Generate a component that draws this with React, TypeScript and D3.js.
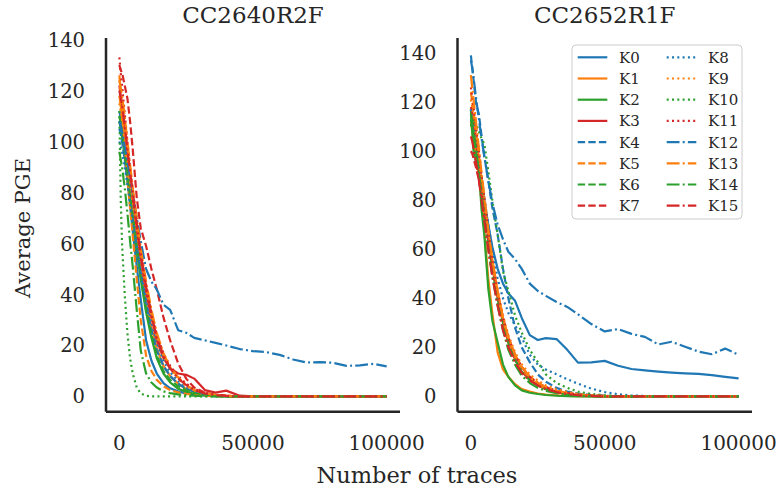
import React from 'react';
import * as d3 from 'd3';

// number of traces at which every curve was sampled
const traces = [0, 500, 1000, 2000, 3000, 4000, 5000, 6500, 8000, 10000, 12000, 14000, 16500, 19000, 22000, 25000,
    28000, 32000, 36000, 40000, 45000, 50000, 55000, 60000, 65000, 70000, 75000, 80000, 85000, 90000, 95000, 100000];

const keyNames = ['K0', 'K1', 'K2', 'K3', 'K4', 'K5', 'K6', 'K7', 'K8', 'K9', 'K10', 'K11', 'K12', 'K13', 'K14', 'K15'];
const boards = ['CC2640R2F', 'CC2652R1F'];
const xTicks = [0, 50000, 100000];
const yTicks = [0, 20, 40, 60, 80, 100, 120, 140];

const palette = ['#1f77b4', '#ff7f0e', '#2ca02c', '#d62728'];
const dashes = ['', '7.4,3.2', '2,3.3', '12.8,3.2,2,3.2'];

// average PGE, one row per key byte
const cc2640 = [
    [112, 109, 106, 97, 86, 75, 65, 51, 38, 22, 14, 9, 5.2, 3.2, 2, 1.2, 0.7, 0.3, 0.1, 0, 0, 0, 0, 0, 0, 0, 0, 0, 0, 0, 0, 0],
    [118, 114, 110, 101, 92, 83, 75, 62, 50, 37, 27, 19, 12, 8, 5, 3, 1.8, 0.9, 0.4, 0.2, 0, 0, 0, 0, 0, 0, 0, 0, 0, 0, 0, 0],
    [108, 105, 102, 94, 85, 77, 69, 57, 46, 33, 23, 15, 9, 5.5, 3, 1.8, 1, 0.5, 0.2, 0, 0, 0, 0, 0, 0, 0, 0, 0, 0, 0, 0, 0],
    [122, 118, 115, 106, 96, 87, 78, 66, 54, 41, 31, 22, 15, 11, 9, 8.5, 7, 2.5, 1.5, 2.3, 0.3, 0, 0, 0, 0, 0, 0, 0, 0, 0, 0, 0],
    [105, 103, 100, 93, 85, 77, 70, 59, 48, 36, 26, 18, 12, 8, 5, 3, 2, 1, 0.5, 0.2, 0, 0, 0, 0, 0, 0, 0, 0, 0, 0, 0, 0],
    [126, 119, 112, 98, 86, 74, 63, 46, 30, 16, 10, 6.5, 4, 2.5, 1.6, 1, 0.6, 0.3, 0.1, 0, 0, 0, 0, 0, 0, 0, 0, 0, 0, 0, 0, 0],
    [110, 107, 104, 96, 87, 79, 71, 59, 47, 34, 24, 16, 10, 6.5, 4, 2.5, 1.5, 0.8, 0.3, 0.1, 0, 0, 0, 0, 0, 0, 0, 0, 0, 0, 0, 0],
    [130, 128, 127, 122, 117, 108, 97, 78, 66, 59, 50, 42, 31, 22, 13, 7, 3.5, 1.5, 0.6, 0.3, 0, 0, 0, 0, 0, 0, 0, 0, 0, 0, 0, 0],
    [100, 98, 96, 90, 83, 76, 69, 59, 49, 38, 29, 21, 14, 9.5, 6, 3.5, 2, 1, 0.5, 0.2, 0, 0, 0, 0, 0, 0, 0, 0, 0, 0, 0, 0],
    [115, 112, 109, 101, 93, 85, 77, 66, 55, 42, 32, 23, 16, 11, 7, 4, 2.5, 1.2, 0.6, 0.3, 0, 0, 0, 0, 0, 0, 0, 0, 0, 0, 0, 0],
    [112, 78, 60, 40, 25, 15, 9, 3.5, 1.2, 0.3, 0, 0, 0, 0, 0, 0, 0, 0, 0, 0, 0, 0, 0, 0, 0, 0, 0, 0, 0, 0, 0, 0],
    [133, 127, 122, 111, 100, 90, 81, 69, 57, 44, 33, 24, 17, 12, 8, 5, 3, 1.5, 0.7, 0.3, 0, 0, 0, 0, 0, 0, 0, 0, 0, 0, 0, 0],
    [108, 106, 104, 98, 92, 86, 80, 70, 61, 50, 45, 42, 36, 34, 26, 25, 23, 22, 21, 20, 18.6, 17.8, 17.4, 16.3, 14.5, 13.3, 13.5, 13.2, 12, 12.2, 12.8, 11.8],
    [124, 121, 118, 110, 100, 91, 82, 70, 58, 45, 34, 25, 17, 11.5, 7.5, 4.5, 2.5, 1.2, 0.5, 0.2, 0, 0, 0, 0, 0, 0, 0, 0, 0, 0, 0, 0],
    [96, 93, 90, 82, 72, 61, 51, 34, 18, 9, 5.5, 3.5, 2, 1.3, 0.8, 0.5, 0.3, 0.1, 0, 0, 0, 0, 0, 0, 0, 0, 0, 0, 0, 0, 0, 0],
    [120, 117, 114, 106, 97, 88, 80, 68, 56, 43, 32, 23, 16, 11, 7, 4.5, 2.5, 1.2, 0.5, 0.2, 0, 0, 0, 0, 0, 0, 0, 0, 0, 0, 0, 0],
];

const cc2652 = [
    [115, 113, 110, 103, 95, 88, 80, 70, 61, 52, 46, 42, 39, 32, 25, 23, 23.8, 23.4, 19, 13.8, 13.9, 14.5, 12.5, 11.2, 10.6, 10.1, 9.7, 9.4, 9.2, 8.7, 8, 7.4],
    [112, 108, 104, 98, 90, 80, 68, 48, 34, 18, 11, 8, 5, 3, 2, 1.2, 0.8, 0.5, 0.2, 0.1, 0, 0, 0, 0, 0, 0, 0, 0, 0, 0, 0, 0],
    [117, 108, 100, 95, 92, 76, 66, 44, 31, 22, 13, 8, 4.5, 2.5, 1.5, 1, 0.6, 0.3, 0.1, 0, 0, 0, 0, 0, 0, 0, 0, 0, 0, 0, 0, 0],
    [118, 116, 113, 104, 95, 86, 77, 64, 53, 40, 30, 22, 15, 10, 7, 4.5, 3, 1.8, 1, 0.5, 0.2, 0, 0, 0, 0, 0, 0, 0, 0, 0, 0, 0],
    [139, 134, 129, 119, 115, 106, 98, 88, 77, 66, 52, 40, 28, 20, 14, 9, 6, 3.5, 2, 1.2, 0.6, 0.3, 0.1, 0, 0, 0, 0, 0, 0, 0, 0, 0],
    [124, 120, 116, 107, 98, 88, 79, 66, 54, 41, 31, 23, 16, 11, 7.5, 5, 3.2, 2, 1.2, 0.6, 0.3, 0.1, 0, 0, 0, 0, 0, 0, 0, 0, 0, 0],
    [113, 110, 106, 99, 91, 83, 75, 63, 52, 40, 30, 22, 15, 10, 6.5, 4.5, 3, 1.8, 1, 0.5, 0.2, 0, 0, 0, 0, 0, 0, 0, 0, 0, 0, 0],
    [100, 99, 97, 93, 88, 82, 75, 64, 54, 42, 32, 24, 17, 12, 8, 5.5, 3.8, 2.3, 1.4, 0.8, 0.4, 0.2, 0, 0, 0, 0, 0, 0, 0, 0, 0, 0],
    [117, 114, 111, 105, 97, 89, 81, 70, 60, 48, 40, 34, 29, 24, 17, 13, 11, 9, 7, 5.2, 3.2, 1.8, 0.9, 0.4, 0.2, 0, 0, 0, 0, 0, 0, 0],
    [121, 118, 114, 106, 97, 88, 80, 67, 56, 43, 33, 25, 18, 13, 9, 6.5, 4.5, 3, 1.8, 1, 0.5, 0.2, 0, 0, 0, 0, 0, 0, 0, 0, 0, 0],
    [110, 112, 113, 111, 108, 105, 103, 92, 80, 66, 51, 43, 33, 26, 19, 14, 9, 5.5, 3.5, 2, 1, 0.5, 0.2, 0, 0, 0, 0, 0, 0, 0, 0, 0],
    [126, 122, 118, 109, 100, 90, 81, 68, 56, 43, 32, 24, 17, 12, 8, 5.5, 3.8, 2.3, 1.4, 0.8, 0.4, 0.2, 0, 0, 0, 0, 0, 0, 0, 0, 0, 0],
    [137, 134, 130, 121, 113, 105, 98, 88, 79, 70, 64, 59, 56, 52, 46, 43, 41, 38.5, 36.5, 33.5, 29.5, 26.5, 27.5, 25.5, 24.3, 21.2, 22.3, 20.3, 18.3, 17.2, 19.5, 17],
    [131, 126, 121, 111, 101, 91, 82, 68, 56, 43, 32, 24, 17, 12, 8, 5.5, 3.8, 2.3, 1.4, 0.8, 0.4, 0.2, 0, 0, 0, 0, 0, 0, 0, 0, 0, 0],
    [115, 112, 108, 100, 91, 82, 73, 60, 49, 37, 27, 19, 13, 8.5, 5.5, 3.5, 2.3, 1.3, 0.7, 0.3, 0.1, 0, 0, 0, 0, 0, 0, 0, 0, 0, 0, 0],
    [106, 104, 101, 95, 88, 80, 72, 60, 49, 37, 27, 20, 14, 9.5, 6.5, 4.5, 3, 1.8, 1, 0.5, 0.2, 0, 0, 0, 0, 0, 0, 0, 0, 0, 0, 0],
];

const ink = '#262626';
const font = 'DejaVu Serif';

function Panel({ title, rows, left, right, yMax, showLegend }) {
    const top = 38, bottom = 411.7;
    const x = d3.scaleLinear().domain([-5000, 105000]).range([left, right]);
    const y = d3.scaleLinear().domain([-0.0425 * yMax, yMax]).range([bottom, top]);
    const line = d3.line().x((d) => x(d[0])).y((d) => y(d[1]));

    return (
        <g>
            <text x={(left + right) / 2} y={23} textAnchor="middle" fontSize={23} fill={ink} fontFamily={font}>{title}</text>
            {rows.map((vals, k) => (
                <path key={k}
                    d={line(traces.map((t, i) => [t, vals[i]]))}
                    fill="none"
                    stroke={palette[k % 4]}
                    strokeWidth={2.2}
                    strokeDasharray={dashes[Math.floor(k / 4)]}
                    strokeLinejoin="round"
                />
            ))}
            <line x1={left} x2={left} y1={top} y2={bottom} stroke={ink} strokeWidth={2.5} />
            <line x1={left} x2={right} y1={bottom} y2={bottom} stroke={ink} strokeWidth={2.5} />
            {yTicks.map((t) => (
                <text key={t} x={left - 21} y={y(t)} dy="0.36em" textAnchor="end" fontSize={19.5} fill={ink} fontFamily={font}>{t}</text>
            ))}
            {xTicks.map((t) => (
                <text key={t} x={x(t)} y={450} textAnchor="middle" fontSize={20} fill={ink} fontFamily={font}>{t}</text>
            ))}
            {showLegend && <Legend />}
        </g>
    );
}

function Legend() {
    const bx = 572, by = 45, rowH = 21.2;
    return (
        <g>
            <rect x={bx} y={by} width={170} height={174} rx={4} fill="white" fillOpacity={0.8} stroke="#cccccc" strokeWidth={1} />
            {keyNames.map((name, k) => {
                const col = Math.floor(k / 8);
                const row = k % 8;
                const hx = bx + 5.7 + col * 89;
                const cy = by + 12.3 + row * rowH;
                return (
                    <g key={name}>
                        <line x1={hx} x2={hx + 29.6} y1={cy} y2={cy}
                            stroke={palette[k % 4]} strokeWidth={2.2}
                            strokeDasharray={dashes[Math.floor(k / 4)]} />
                        <text x={hx + 41.3} y={cy} dy="0.36em" fontSize={15} fill={ink} fontFamily={font}>{name}</text>
                    </g>
                );
            })}
        </g>
    );
}

export default function App() {
    return (
        <div style={{ position: 'fixed', left: 0, top: 0 }}>
            <svg width={782} height={492} style={{ display: 'block', background: 'white' }}>
                <Panel title={boards[0]} rows={cc2640} left={106} right={400} yMax={140.6} showLegend={false} />
                <Panel title={boards[1]} rows={cc2652} left={457.5} right={752} yMax={146.1} showLegend={true} />
                <text transform="translate(30,228) rotate(-90)" textAnchor="middle" fontSize={21} fill={ink} fontFamily={font}>Average PGE</text>
                <text x={417} y={483} textAnchor="middle" fontSize={22.5} fill={ink} fontFamily={font}>Number of traces</text>
            </svg>
        </div>
    );
}
